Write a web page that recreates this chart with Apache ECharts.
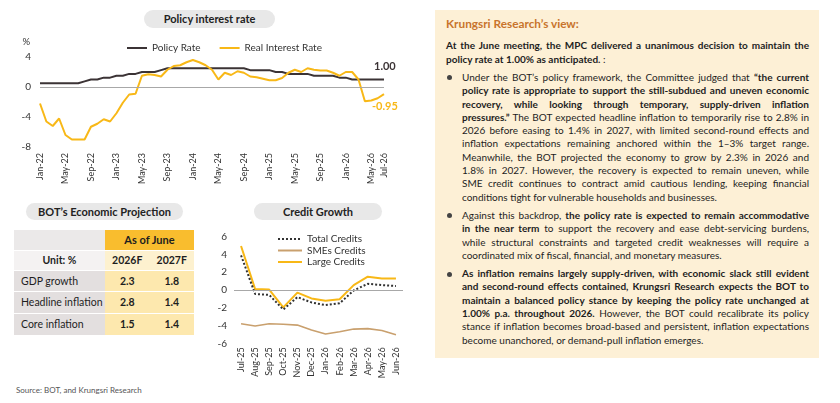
<!DOCTYPE html>
<html>
<head>
<meta charset="utf-8">
<script src="https://cdn.jsdelivr.net/npm/echarts@6/dist/echarts.min.js"></script>
<style>
  html, body { margin: 0; padding: 0; background: #fff; }
  body { width: 840px; height: 403px; position: relative; overflow: hidden; font-family: Lato, 'Open Sans', sans-serif; color: #1e1e1e; }
  .pill { position: absolute; background: #e8e8e8; border-radius: 9px; font-weight: bold; font-size: 11px; text-align: center; color: #222; }
  #policy { position: absolute; left: 0; top: 0; width: 420px; height: 190px; }
  #credit { position: absolute; left: 200px; top: 190px; width: 220px; height: 200px; }
  table { position: absolute; left: 14px; top: 230px; border-collapse: collapse; font-size: 10.5px; color: #1e1e1e; }
  td { padding: 0; border-bottom: 1px solid #fff; }
  td.lab { width: 91px; padding-left: 7px; box-sizing: border-box; background: #e3dfdf; }
  td.num { width: 44.5px; text-align: center; font-weight: bold; background: #fde8ae; }
  .src { position: absolute; left: 16px; top: 385px; font-size: 8px; color: #555; }
  #view { position: absolute; left: 435px; top: 10px; width: 384px; height: 348px; background: #fdf0d6; box-sizing: border-box; padding: 6px 10px 0 11px; font-size: 10px; }
  #view h3 { margin: 0; font-size: 11.8px; line-height: 16px; color: #c8742c; }
  .ln { line-height: 13.3px; white-space: nowrap; }
  .para { margin-top: 5px; }
  .lead { margin-top: 7.4px; font-weight: bold; }
  .bul { position: relative; padding-left: 16px; }
  .bul:before { content: ''; position: absolute; left: 1px; top: 4.5px; width: 5px; height: 5px; border-radius: 50%; background: #444; }
</style>
</head>
<body>
<div class="pill" style="left:144px;top:10px;width:131px;height:18px;line-height:18px;">Policy interest rate</div>
<div id="policy"></div>

<div class="pill" style="left:26px;top:203px;width:157px;height:17px;line-height:17px;">BOT’s Economic Projection</div>
<table>
  <tr style="height:20px;"><td class="lab" style="background:#ebe9e9;"></td><td colspan="2" class="num" style="background:#f9bd2e;font-size:11px;">As of June</td></tr>
  <tr style="height:20px;"><td class="lab" style="background:#f4f2f2;text-align:center;padding-left:0;font-weight:bold;">Unit: %</td><td class="num" style="background:#fdf1cf;">2026F</td><td class="num" style="background:#fdf1cf;">2027F</td></tr>
  <tr style="height:21px;"><td class="lab">GDP growth</td><td class="num">2.3</td><td class="num">1.8</td></tr>
  <tr style="height:22px;"><td class="lab">Headline inflation</td><td class="num">2.8</td><td class="num">1.4</td></tr>
  <tr style="height:22px;"><td class="lab">Core inflation</td><td class="num">1.5</td><td class="num">1.4</td></tr>
</table>

<div class="pill" style="left:254px;top:203px;width:128px;height:17px;line-height:17px;">Credit Growth</div>
<div id="credit"></div>
<div class="src">Source: BOT, and Krungsri Research</div>

<div id="view">
  <h3>Krungsri Research’s view:</h3>
  <div class="lead">
    <div class="ln j">At the June meeting, the MPC delivered a unanimous decision to maintain the</div>
    <div class="ln">policy rate at 1.00% as anticipated. <span style="font-weight:normal">:</span></div>
  </div>
  <div class="para bul">
    <div class="ln j">Under the BOT’s policy framework, the Committee judged that <b>“the current</b></div>
    <div class="ln j"><b>policy rate is appropriate to support the still-subdued and uneven economic</b></div>
    <div class="ln j"><b>recovery, while looking through temporary, supply-driven inflation</b></div>
    <div class="ln j"><b>pressures.”</b> The BOT expected headline inflation to temporarily rise to 2.8% in</div>
    <div class="ln j">2026 before easing to 1.4% in 2027, with limited second-round effects and</div>
    <div class="ln j">inflation expectations remaining anchored within the 1–3% target range.</div>
    <div class="ln j">Meanwhile, the BOT projected the economy to grow by 2.3% in 2026 and</div>
    <div class="ln j">1.8% in 2027. However, the recovery is expected to remain uneven, while</div>
    <div class="ln j">SME credit continues to contract amid cautious lending, keeping financial</div>
    <div class="ln">conditions tight for vulnerable households and businesses.</div>
  </div>
  <div class="para bul">
    <div class="ln j">Against this backdrop, <b>the policy rate is expected to remain accommodative</b></div>
    <div class="ln j"><b>in the near term</b> to support the recovery and ease debt-servicing burdens,</div>
    <div class="ln j">while structural constraints and targeted credit weaknesses will require a</div>
    <div class="ln">coordinated mix of fiscal, financial, and monetary measures.</div>
  </div>
  <div class="para bul">
    <div class="ln j"><b>As inflation remains largely supply-driven, with economic slack still evident</b></div>
    <div class="ln j"><b>and second-round effects contained, Krungsri Research expects the BOT to</b></div>
    <div class="ln j"><b>maintain a balanced policy stance by keeping the policy rate unchanged at</b></div>
    <div class="ln j"><b>1.00% p.a. throughout 2026.</b> However, the BOT could recalibrate its policy</div>
    <div class="ln j">stance if inflation becomes broad-based and persistent, inflation expectations</div>
    <div class="ln">become unanchored, or demand-pull inflation emerges.</div>
  </div>
</div>

<script>
const months = [
  'Jan-22', 'Feb-22', 'Mar-22', 'Apr-22', 'May-22', 'Jun-22', 'Jul-22', 'Aug-22', 'Sep-22', 'Oct-22', 'Nov-22', 'Dec-22',
  'Jan-23', 'Feb-23', 'Mar-23', 'Apr-23', 'May-23', 'Jun-23', 'Jul-23', 'Aug-23', 'Sep-23', 'Oct-23', 'Nov-23', 'Dec-23',
  'Jan-24', 'Feb-24', 'Mar-24', 'Apr-24', 'May-24', 'Jun-24', 'Jul-24', 'Aug-24', 'Sep-24', 'Oct-24', 'Nov-24', 'Dec-24',
  'Jan-25', 'Feb-25', 'Mar-25', 'Apr-25', 'May-25', 'Jun-25', 'Jul-25', 'Aug-25', 'Sep-25', 'Oct-25', 'Nov-25', 'Dec-25',
  'Jan-26', 'Feb-26', 'Mar-26', 'Apr-26', 'May-26', 'Jun-26', 'Jul-26'
]
const policyRate = [
  0.5, 0.5, 0.5, 0.5, 0.5, 0.5, 0.5, 0.75, 1.0, 1.0, 1.25, 1.25,
  1.5, 1.5, 1.75, 1.75, 2.0, 2.0, 2.0, 2.25, 2.5, 2.5, 2.5, 2.5,
  2.5, 2.5, 2.5, 2.5, 2.5, 2.5, 2.5, 2.5, 2.5, 2.25, 2.25, 2.25,
  2.25, 2.0, 2.0, 1.75, 1.75, 1.75, 1.75, 1.5, 1.5, 1.5, 1.5, 1.25,
  1.25, 1.0, 1.0, 1.0, 1.0, 1.0, 1.0
]
const realRate = [
  -2.2, -4.6, -5.2, -4.2, -6.4, -7.0, -7.0, -7.0, -5.3, -4.9, -4.3, -4.6,
  -3.5, -2.1, -1.0, -0.9, 1.5, 1.7, 1.6, 1.4, 2.3, 2.8, 2.9, 3.3,
  3.6, 3.3, 2.9, 2.3, 1.0, 1.9, 1.6, 2.1, 1.9, 1.4, 1.3, 1.1,
  0.9, 0.9, 1.2, 1.9, 2.3, 2.0, 2.5, 2.3, 2.2, 2.2, 1.9, 1.5,
  2.0, 2.0, 1.0, -1.9, -1.8, -1.5, -0.95
]
const creditMonths = ['Jul-25', 'Aug-25', 'Sep-25', 'Oct-25', 'Nov-25', 'Dec-25', 'Jan-26', 'Feb-26', 'Mar-26', 'Apr-26', 'May-26', 'Jun-26']
const totalCredits = [3.9, -0.45, -0.55, -2.2, -0.8, -1.4, -1.7, -1.5, -0.05, 0.7, 0.55, 0.45]
const smeCredits = [-3.8, -4.05, -3.8, -3.85, -3.95, -4.5, -4.95, -4.7, -4.4, -4.35, -4.55, -5.05]
const largeCredits = [4.95, 0.1, 0.05, -1.95, -0.3, -0.95, -1.2, -1.05, 0.55, 1.5, 1.3, 1.3]

const YELLOW = '#f8b817'
const DARK = '#3b3335'
const TEXT = '#333'

const zeroLine = {
  silent: true,
  symbol: 'none',
  label: { show: false },
  lineStyle: { color: '#a8a8a8', width: 1, type: 'solid' },
  data: [{ yAxis: 0 }]
}

const policyChart = echarts.init(document.getElementById('policy'))
policyChart.setOption({
  animation: false,
  textStyle: { fontFamily: 'Lato' },
  grid: { left: 40, right: 36, top: 57, bottom: 43 },
  legend: {
    left: 121,
    top: 38,
    itemWidth: 20,
    itemHeight: 10,
    itemGap: 18,
    itemStyle: { opacity: 0 },
    textStyle: { fontSize: 10, color: TEXT },
    data: ['Policy Rate', 'Real Interest Rate']
  },
  xAxis: {
    type: 'category',
    data: months,
    boundaryGap: false,
    axisLine: { show: false },
    axisTick: { show: false },
    axisLabel: {
      rotate: 90,
      fontSize: 9,
      color: TEXT,
      margin: 6,
      interval: (i) => i % 4 === 0 || i === months.length - 1
    }
  },
  yAxis: {
    type: 'value',
    min: -8,
    max: 4,
    interval: 4,
    name: '%',
    nameGap: 10,
    nameTextStyle: { fontSize: 9.5, color: TEXT, align: 'right', padding: [0, 10, 0, 0] },
    axisLine: { show: false },
    axisTick: { show: false },
    splitLine: { show: false },
    axisLabel: { fontSize: 10, color: TEXT, margin: 9 }
  },
  series: [
    {
      name: 'Policy Rate',
      type: 'line',
      data: policyRate,
      symbol: 'none',
      lineStyle: { color: DARK, width: 2 },
      itemStyle: { color: DARK },
      endLabel: {
        show: true,
        formatter: (p) => p.value.toFixed(2),
        fontSize: 11,
        fontWeight: 'bold',
        color: DARK,
        offset: [-18, -13]
      },
      markLine: zeroLine,
      z: 3
    },
    {
      name: 'Real Interest Rate',
      type: 'line',
      data: realRate,
      symbol: 'none',
      lineStyle: { color: YELLOW, width: 2 },
      itemStyle: { color: YELLOW },
      endLabel: {
        show: true,
        formatter: (p) => p.value.toFixed(2),
        fontSize: 11,
        fontWeight: 'bold',
        color: YELLOW,
        offset: [-20, 12]
      },
      z: 4
    }
  ]
})

const creditChart = echarts.init(document.getElementById('credit'))
creditChart.setOption({
  animation: false,
  textStyle: { fontFamily: 'Lato' },
  grid: { left: 34, right: 17, top: 46.7, bottom: 46.7 },
  legend: {
    orient: 'vertical',
    left: 72,
    top: 39,
    itemWidth: 24,
    itemHeight: 10,
    itemGap: 1.5,
    itemStyle: { opacity: 0 },
    textStyle: { fontSize: 10, color: TEXT },
    data: ['Total Credits', 'SMEs Credits', 'Large Credits']
  },
  xAxis: {
    type: 'category',
    data: creditMonths,
    boundaryGap: true,
    axisLine: { show: false },
    axisTick: { show: false },
    axisLabel: { rotate: 90, fontSize: 9, color: TEXT, margin: 4, interval: 0 }
  },
  yAxis: {
    type: 'value',
    min: -6,
    max: 6,
    interval: 2,
    axisLine: { show: false },
    axisTick: { show: false },
    splitLine: { show: false },
    axisLabel: { fontSize: 10, color: TEXT, margin: 7 }
  },
  series: [
    {
      name: 'Total Credits',
      type: 'line',
      data: totalCredits,
      symbol: 'none',
      lineStyle: { color: '#333', width: 2, type: 'dotted' },
      itemStyle: { color: '#333' },
      markLine: zeroLine,
      z: 4
    },
    {
      name: 'SMEs Credits',
      type: 'line',
      data: smeCredits,
      symbol: 'none',
      lineStyle: { color: '#c9a06e', width: 1.6 },
      itemStyle: { color: '#c9a06e' }
    },
    {
      name: 'Large Credits',
      type: 'line',
      data: largeCredits,
      symbol: 'none',
      lineStyle: { color: YELLOW, width: 2 },
      itemStyle: { color: YELLOW },
      z: 3
    }
  ]
})

// justify each line to the text width, squeezing letters if it overflows
function fitLines() {
  document.querySelectorAll('#view .ln.j').forEach((el) => {
    const target = el.clientWidth
    const range = document.createRange()
    range.selectNodeContents(el)
    const natural = range.getBoundingClientRect().width
    const spaces = (el.textContent.match(/ /g) || []).length
    const diff = target - natural
    if (diff >= 0 && spaces > 0) {
      el.style.wordSpacing = (diff / spaces) + 'px'
    } else if (diff < 0) {
      el.style.letterSpacing = (diff / el.textContent.length) + 'px'
    }
  })
}
fitLines()
</script>
</body>
</html>
